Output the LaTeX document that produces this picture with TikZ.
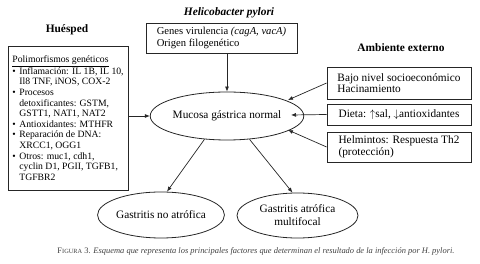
\documentclass[tikz,border=0pt]{standalone}
\usepackage{fontspec}
\usepackage{graphicx}
\setmainfont{Liberation Serif}
\usetikzlibrary{arrows.meta,shapes.geometric,calc}
\begin{document}
\begin{tikzpicture}[x=1pt,y=-1pt,
  box/.style={draw=black!85, line width=0.8pt, rectangle, inner sep=0pt, align=left},
  oval/.style={draw=black!85, line width=0.8pt, ellipse, inner sep=0pt, align=center},
  arr/.style={draw=black!85, line width=0.7pt, -{Latex[length=5pt,width=4pt]}},
  ttl/.style={font=\fontsize{11.4}{13}\selectfont\bfseries},
  txt/.style={font=\fontsize{11.3}{11.5}\selectfont},
  ]
\useasboundingbox (0,0) rectangle (480,264);
% titles
\node[ttl] (hT) at (67,30) {Huésped};
\node[ttl] (pT) at (229,13) {\itshape Helicobacter pylori};
\node[ttl] (aT) at (401,48) {Ambiente externo};
% left box
\node[box, minimum width=120pt, minimum height=144pt,
      font=\fontsize{9.7}{10.6}\selectfont] (lbox) at (68,118) {%
\underline{Polimorfismos genéticos}\\
\makebox[7pt][l]{\textbullet}Inflamación: IL 1B, IL 10,\\
\hspace*{7pt}Il8 TNF, iNOS, COX-2\\
\makebox[7pt][l]{\textbullet}Procesos\\
\hspace*{7pt}detoxificantes: GSTM,\\
\hspace*{7pt}GSTT1, NAT1, NAT2\\
\makebox[7pt][l]{\textbullet}Antioxidantes: MTHFR\\
\makebox[7pt][l]{\textbullet}Reparación de DNA:\\
\hspace*{7pt}XRCC1, OGG1\\
\makebox[7pt][l]{\textbullet}Otros: muc1, cdh1,\\
\hspace*{7pt}cyclin D1, PGII, TGFB1,\\
\hspace*{7pt}TGFBR2};
% top box
\node[box, minimum width=151pt, minimum height=30pt,
      font=\fontsize{10.6}{12}\selectfont] (tbox) at (221.5,38) {%
Genes virulencia \textit{(cagA, vacA)}\\Origen filogenético};
% right boxes
\node[box, txt, minimum width=144pt, minimum height=32pt] (r1) at (399,83) {%
Bajo nivel socioeconómico\\Hacinamiento};
\node[box, txt, minimum width=144pt, minimum height=21pt] (r2) at (399,114.5) {%
Dieta: $\uparrow$sal, $\downarrow$antioxidantes};
\node[box, txt, minimum width=144pt, minimum height=30pt] (r3) at (399,147) {%
Helmintos: Respuesta Th2\\(protección)};
% ellipses
\node[oval, txt, minimum width=120pt, minimum height=48pt] (m) at (227,116) {Mucosa gástrica normal};
\node[oval, txt, minimum width=122pt, minimum height=46pt] (e1) at (161,215) {Gastritis no atrófica};
\node[oval, font=\fontsize{11.3}{13}\selectfont, minimum width=121pt, minimum height=45pt] (e2) at (297.5,215.5) {Gastritis atrófica\\multifocal};
% tips
\coordinate (t1) at (288,100);
\coordinate (t2) at (291,115);
\coordinate (t3) at (288,130);
% arrows
\draw[arr] (lbox.east |- m.west) -- (m.west);
\draw[arr] (m.north |- tbox.south) -- (m.north);
\draw[arr] (r1.west) -- (t1);
\draw[arr] (r2.west) -- (t2);
\draw[arr] (r3.west) -- (t3);
\draw[arr] (m.226) -- ([xshift=6pt]e1.north);
\draw[arr] (m.314) -- ([xshift=-5pt]e2.north);
% caption
\node[text=black!75] (cap) at (256,251) {\resizebox{397pt}{!}{\fontsize{8}{9}\selectfont F{\fontsize{6}{7}\selectfont IGURA} 3. \textit{Esquema que representa los principales factores que determinan el resultado de la infección por H. pylori.}}};
\end{tikzpicture}
\end{document}
